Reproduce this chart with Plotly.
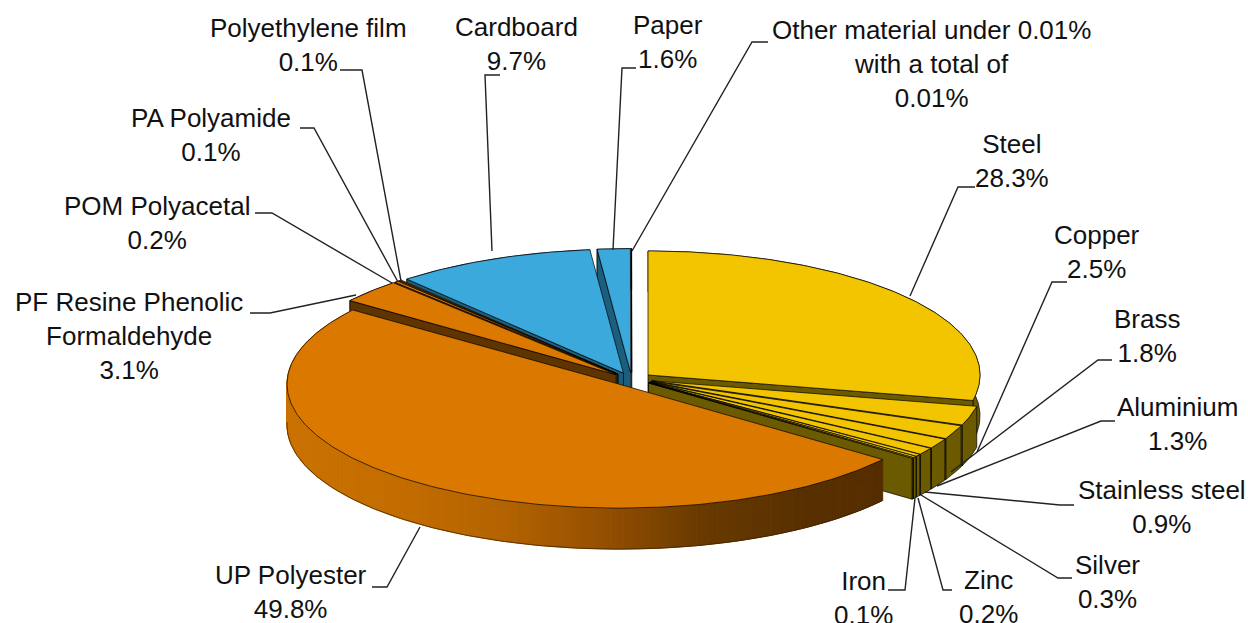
import math
import plotly.graph_objects as go

# ---- data ----
materials = ["Steel", "Copper", "Brass", "Aluminium", "Stainless steel", "Silver", "Zinc", "Iron",
             "UP Polyester", "PF Resine Phenolic<br>Formaldehyde", "POM Polyacetal", "PA Polyamide",
             "Polyethylene film", "Cardboard", "Paper", "Other material under 0.01%<br>with a total of"]
percents = [28.3, 2.5, 1.8, 1.3, 0.9, 0.3, 0.2, 0.1, 49.8, 3.1, 0.2, 0.1, 0.1, 9.7, 1.6, 0.01]
percent_labels = ["28.3%", "2.5%", "1.8%", "1.3%", "0.9%", "0.3%", "0.2%", "0.1%", "49.8%", "3.1%",
                  "0.2%", "0.1%", "0.1%", "9.7%", "1.6%", "0.01%"]
families = ["metal"] * 8 + ["plastic"] * 5 + ["paper"] * 3

# ---- styling / layout ----
TOP = {"metal": "#F2C500", "plastic": "#DA7800", "paper": "#3BA9DC"}
SIDE = {"metal": "#6B5A00", "plastic": "#5E3400", "paper": "#1C5E7E"}
CX, CY, RX, RY, DEPTH, EX, EY = 631.7, 379, 332, 124, 41, 21, 6.4
GRAD = [(287, (202, 114, 0)), (400, (195, 108, 0)), (500, (180, 100, 0)), (600, (150, 80, 0)),
        (700, (105, 58, 0)), (800, (88, 48, 0)), (885, (85, 45, 0))]
FONT = dict(family="Liberation Sans, Arial, sans-serif", size=26, color="#111111")

# label centre (x, y) for each text block
label_pos = [(1012, 161), (1097, 252), (1147, 336), (1177, 424), (1162, 507), (1107, 582),
             (988, 597), (863, 598), (291, 592), (129, 336), (157, 223), (211, 135),
             (308, 45), (516, 44), (668, 42), (931, 64)]
# leader: elbow points beside the text, then end point on the pie
leaders = [
    [(975, 187), (958, 187), (910, 296)],
    [(1067, 282), (1052, 282), (977, 452)],
    [(1112, 360), (1098, 360), (951, 472)],
    [(1115, 421), (1101, 421), (937, 486)],
    [(1074, 505), (1060, 505), (925, 492)],
    [(1072, 578), (1058, 578), (921, 495)],
    [(952, 590), (943, 590), (918, 498)],
    [(888, 590), (905, 590), (915, 498)],
    [(372, 587), (387, 587), (420, 527)],
    [(250, 313), (270, 313), (356, 295)],
    [(255, 213), (272, 213), (392, 283)],
    [(300, 128), (314, 128), (398, 282)],
    [(340, 70), (362, 70), (401, 281)],
    [(500, 75), (485, 75), (492, 251)],
    [(636, 68), (622, 68), (613, 250)],
    [(768, 42), (752, 42), (632, 251)],
]


def pt(theta, ax, ay):
    return ax + RX * math.sin(theta), ay - RY * math.cos(theta)


def lerp_grad(x):
    if x <= GRAD[0][0]:
        c = GRAD[0][1]
    elif x >= GRAD[-1][0]:
        c = GRAD[-1][1]
    else:
        for (x0, c0), (x1, c1) in zip(GRAD, GRAD[1:]):
            if x0 <= x <= x1:
                t = (x - x0) / (x1 - x0)
                c = tuple(a + (b - a) * t for a, b in zip(c0, c1))
                break
    return "rgb(%d,%d,%d)" % tuple(round(a) for a in c)


fig = go.Figure()


def poly(pts, fill, line="#000000", width=0.7):
    xs = [p[0] for p in pts] + [pts[0][0]]
    ys = [p[1] for p in pts] + [pts[0][1]]
    fig.add_trace(go.Scatter(x=xs, y=ys, mode="lines", fill="toself", fillcolor=fill,
                             line=dict(color=line, width=width), hoverinfo="skip", showlegend=False))


total = sum(percents)
slices = []
acc = 0
for name, val, fam in zip(materials, percents, families):
    a0 = 2 * math.pi * acc / total
    acc += val
    a1 = 2 * math.pi * acc / total
    slices.append((a0, a1, fam, name))

# painter's order: from the back of the disc to the front
for a0, a1, fam, name in sorted(slices, key=lambda s: -math.cos((s[0] + s[1]) / 2)):
    mid = (a0 + a1) / 2
    ax = CX + EX * math.sin(mid)
    ay = CY - EY * math.cos(mid)
    n = max(2, int((a1 - a0) / math.radians(0.75)))
    thetas = [a0 + (a1 - a0) * i / n for i in range(n + 1)]
    arc = [pt(t, ax, ay) for t in thetas]
    low = [(p[0], p[1] + DEPTH) for p in arc]
    # outer wall
    if name == "UP Polyester":
        for p, q, lp, lq in zip(arc, arc[1:], low, low[1:]):
            c = lerp_grad((p[0] + q[0]) / 2)
            poly([p, q, lq, lp], c, line=c, width=1)
        bottom = [l for p, l in zip(arc, low) if p[1] > ay - 4]
        fig.add_trace(go.Scatter(x=[p[0] for p in bottom], y=[p[1] for p in bottom], mode="lines",
                                 line=dict(color="#3a2000", width=0.7), hoverinfo="skip", showlegend=False))
    else:
        poly(arc + low[::-1], SIDE[fam])
    # radial walls that face the viewer
    if math.sin(a0) < 0:
        poly([(ax, ay), arc[0], low[0], (ax, ay + DEPTH)], SIDE[fam])
    if math.sin(a1) > 0:
        poly([(ax, ay), arc[-1], low[-1], (ax, ay + DEPTH)], SIDE[fam])
    # top face
    poly([(ax, ay)] + arc, TOP[fam])

# leader lines
for path in leaders:
    fig.add_trace(go.Scatter(x=[p[0] for p in path], y=[p[1] for p in path], mode="lines",
                             line=dict(color="#222222", width=1.4), hoverinfo="skip", showlegend=False))

annotations = [
    dict(x=p[0], y=p[1], xref="x", yref="y", text=f"{n}<br>{l}", showarrow=False,
         xanchor="center", yanchor="middle", align="center", font=FONT)
    for n, l, p in zip(materials, percent_labels, label_pos)
]

fig.update_layout(
    width=1248, height=623, margin=dict(l=0, r=0, t=0, b=0),
    paper_bgcolor="white", plot_bgcolor="white", showlegend=False,
    xaxis=dict(range=[0, 1248], visible=False, fixedrange=True),
    yaxis=dict(range=[623, 0], visible=False, fixedrange=True),
    annotations=annotations,
)
fig.write_html("out.html", config=dict(displayModeBar=False),
               post_script="document.body.style.margin='0';document.body.style.overflow='hidden';")
